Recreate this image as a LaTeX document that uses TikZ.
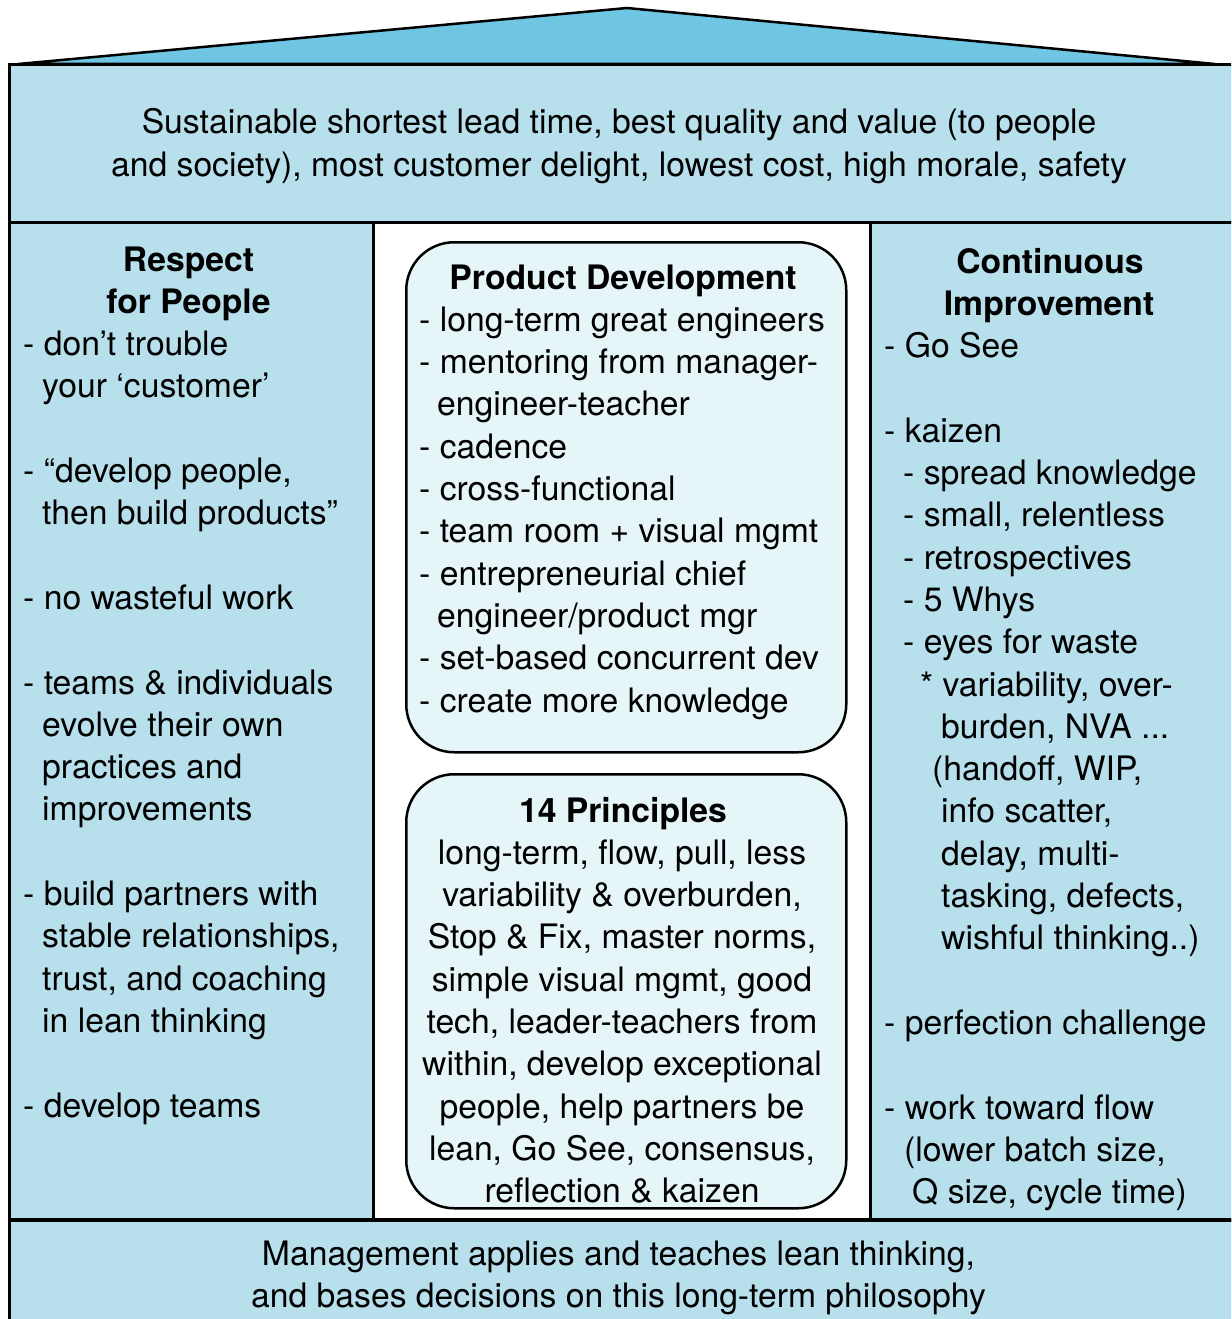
\documentclass[tikz,border=0pt]{standalone}
\usepackage{fontspec}
\setmainfont{TeX Gyre Heros}
\newcommand\bodyfont{\fontsize{33.7}{42.3}\selectfont}

\definecolor{panelblue}{RGB}{184,224,236}
\definecolor{roofblue}{RGB}{110,198,227}
\definecolor{boxtint}{RGB}{230,245,248}

\tikzset{
  txt/.style={inner sep=0pt, anchor=base west, font=\bodyfont},
  ctr/.style={inner sep=0pt, anchor=base, font=\bodyfont},
  head/.style={inner sep=0pt, anchor=base, font=\bodyfont\bfseries},
  panel/.style={draw=black, line width=3pt, fill=panelblue},
  roofstyle/.style={draw=black, line width=2.5pt, fill=roofblue, line join=miter},
  pdbox/.style={draw=black, line width=2.5pt, fill=boxtint, rounded corners=48pt,
                inner sep=0pt, anchor=north west}
}

\begin{document}
\begin{tikzpicture}[x=1pt,y=-1pt]
  \useasboundingbox (0,0) rectangle (1231,1319);
  \clip (0,0) rectangle (1231,1319);
  \fill[white] (0,0) rectangle (1231,1319);

  % roof
  \draw[roofstyle] (18,64) -- (627,8) -- (1215,64) -- cycle;

  % goal beam, pillars and foundation
  \draw[panel] (9,65) rectangle (1245,222);
  \draw[panel] (9,222) rectangle (373,1220);
  \draw[panel] (870,222) rectangle (1245,1220);
  \draw[panel] (9,1220) rectangle (1245,1340);
  \draw[line width=4pt] (9,1220) -- (1245,1220);

  % goal text
  \node[ctr] (goal1) at (619,134) {Sustainable shortest lead time, best quality and value (to people};
  \node[ctr] (goal2) at (619,176) {and society), most customer delight, lowest cost, high morale, safety};

  % foundation text
  \node[ctr] (base1) at (618.5,1265) {Management applies and teaches lean thinking,};
  \node[ctr] (base2) at (618.5,1307) {and bases decisions on this long-term philosophy};

  % left pillar: Respect for People
  \node[head] (rp-h1) at (188.5,271) {Respect};
  \node[head] (rp-h2) at (188.5,313) {for People};
  \foreach \k/\x/\t in {
    2/23/{- don’t trouble},
    3/42/{your ‘customer’},
    5/23/{- “develop people,},
    6/42/{then build products”},
    8/23/{- no wasteful work},
    10/23/{- teams \& individuals},
    11/42/{evolve their own},
    12/42/{practices and},
    13/42/{improvements},
    15/23/{- build partners with},
    16/42/{stable relationships,},
    17/42/{trust, and coaching},
    18/42/{in lean thinking},
    20/23/{- develop teams}}
    \node[txt] (rp-\k) at (\x,{271+42.3*\k}) {\t};

  % right pillar: Continuous Improvement
  \node[head] (ci-h1) at (1050,273) {Continuous};
  \node[head] (ci-h2) at (1049,315) {Improvement};
  \foreach \k/\x/\t in {
    2/884/{- Go See},
    4/884/{- kaizen},
    5/903/{- spread knowledge},
    6/903/{- small, relentless},
    7/903/{- retrospectives},
    8/903/{- 5 Whys},
    9/903/{- eyes for waste},
    10/920/{* variability, over-},
    11/941/{burden, NVA ...},
    12/932/{(handoff, WIP,},
    13/941/{info scatter,},
    14/941/{delay, multi-},
    15/941/{tasking, defects,},
    16/941/{wishful thinking..)},
    18/884/{- perfection challenge},
    20/884/{- work toward flow},
    21/904/{(lower batch size,},
    22/912/{Q size, cycle time)}}
    \node[txt] (ci-\k) at (\x,{273+42.3*\k}) {\t};

  % centre: product development
  \node[pdbox, minimum width=440pt, minimum height=510pt] (pd) at (405,241) {};
  \node[head] (pd-h) at (623,289) {Product Development};
  \foreach \k/\x/\t in {
    1/419/{- long-term great engineers},
    2/419/{- mentoring from manager-},
    3/437/{engineer-teacher},
    4/419/{- cadence},
    5/419/{- cross-functional},
    6/419/{- team room + visual mgmt},
    7/419/{- entrepreneurial chief},
    8/437/{engineer/product mgr},
    9/419/{- set-based concurrent dev},
    10/419/{- create more knowledge}}
    \node[txt] (pd-\k) at (\x,{289+42.3*\k}) {\t};

  % centre: 14 principles
  \node[pdbox, minimum width=440pt, minimum height=434pt] (tp) at (405,773) {};
  \node[head] (tp-h) at (623,822) {14 Principles};
  \foreach \k/\t in {
    1/{long-term, flow, pull, less},
    2/{variability \& overburden,},
    3/{Stop \& Fix, master norms,},
    4/{simple visual mgmt, good},
    5/{tech, leader-teachers from},
    6/{within, develop exceptional},
    7/{people, help partners be},
    8/{lean, Go See, consensus,},
    9/{reflection \& kaizen}}
    \node[ctr] (tp-\k) at (622,{822+42.3*\k}) {\t};
\end{tikzpicture}
\end{document}
